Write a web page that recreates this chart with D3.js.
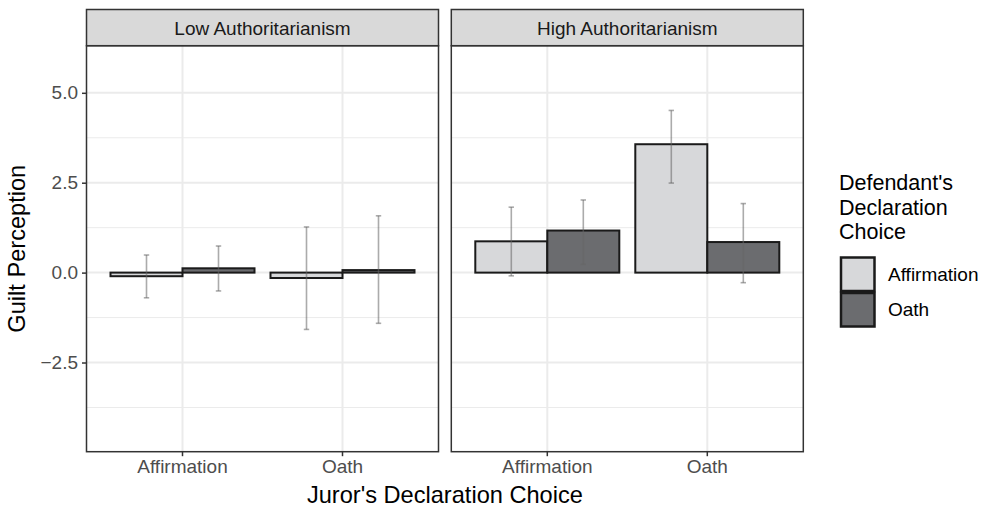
<!DOCTYPE html>
<html>
<head>
<meta charset="utf-8">
<script src="https://cdn.jsdelivr.net/npm/d3@7"></script>
<style>
  html, body { margin: 0; padding: 0; background: #fff; }
  svg { display: block; font-family: "Liberation Sans", Arial, Helvetica, sans-serif; }
</style>
</head>
<body>
<svg id="chart" width="988" height="510"></svg>
<script>
// ---------------- data ----------------
const panels = ["Low Authoritarianism", "High Authoritarianism"];
const jurorChoices = ["Affirmation", "Oath"];
const defendantChoices = ["Affirmation", "Oath"];
// order: (juror Affirmation, def Affirmation), (juror Affirmation, def Oath), (juror Oath, def Affirmation), (juror Oath, def Oath)
const lowMeans  = [-0.10, 0.12, -0.15, 0.07];
const lowLower  = [-0.70, -0.51, -1.58, -1.41];
const lowUpper  = [0.49, 0.74, 1.27, 1.58];
const highMeans = [0.87, 1.17, 3.57, 0.85];
const highLower = [-0.09, 0.23, 2.49, -0.28];
const highUpper = [1.82, 2.02, 4.51, 1.92];
const yTicks = [-2.5, 0.0, 2.5, 5.0];
const yMinor = [-3.75, -1.25, 1.25, 3.75];
const yDomain = [-4.98, 6.31];
const fillColors = ["#d7d8da", "#6b6c6f"];
const legendTitle = ["Defendant's", "Declaration", "Choice"];

const panelMeans = [lowMeans, highMeans];
const panelLower = [lowLower, highLower];
const panelUpper = [lowUpper, highUpper];

// ---------------- layout ----------------
const svg = d3.select("#chart");
const panelW = 352;
const panelX0 = [86.5, 451.3];
const stripTop = 9.5, stripBottom = 45.7, panelBottom = 451.7;

const y = d3.scaleLinear().domain(yDomain).range([panelBottom, stripBottom]);

panels.forEach((pname, pi) => {
  const x0 = panelX0[pi];
  const g = svg.append("g");
  const x = d3.scaleBand().domain(jurorChoices).range([x0, x0 + panelW]).paddingInner(0.1).paddingOuter(0.15);
  const xd = d3.scaleBand().domain(defendantChoices).range([0, x.bandwidth()]).padding(0);

  g.append("rect").attr("x", x0).attr("y", stripBottom).attr("width", panelW).attr("height", panelBottom - stripBottom).attr("fill", "#fff");

  // minor grid
  g.selectAll(".ymin").data(yMinor).enter().append("line")
    .attr("x1", x0).attr("x2", x0 + panelW)
    .attr("y1", d => y(d)).attr("y2", d => y(d))
    .attr("stroke", "#ebebeb").attr("stroke-width", 1);
  // major grid
  g.selectAll(".ymaj").data(yTicks).enter().append("line")
    .attr("x1", x0).attr("x2", x0 + panelW)
    .attr("y1", d => y(d)).attr("y2", d => y(d))
    .attr("stroke", "#ebebeb").attr("stroke-width", 2);
  g.selectAll(".xmaj").data(jurorChoices).enter().append("line")
    .attr("x1", d => x(d) + x.bandwidth() / 2).attr("x2", d => x(d) + x.bandwidth() / 2)
    .attr("y1", stripBottom).attr("y2", panelBottom)
    .attr("stroke", "#ebebeb").attr("stroke-width", 2);

  const rows = [];
  jurorChoices.forEach((j, ji) => defendantChoices.forEach((d, di) => {
    const k = ji * 2 + di;
    rows.push({ j, d, di, mean: panelMeans[pi][k], lo: panelLower[pi][k], hi: panelUpper[pi][k] });
  }));

  // bars
  g.selectAll(".bar").data(rows).enter().append("rect")
    .attr("x", r => x(r.j) + xd(r.d))
    .attr("width", xd.bandwidth())
    .attr("y", r => Math.min(y(r.mean), y(0)))
    .attr("height", r => Math.abs(y(r.mean) - y(0)))
    .attr("fill", r => fillColors[r.di])
    .attr("stroke", "#1a1a1a").attr("stroke-width", 2);

  // error bars
  const capW = xd.bandwidth() * 0.075;
  const cx = r => x(r.j) + xd(r.d) + xd.bandwidth() / 2;
  const eb = g.selectAll(".eb").data(rows).enter().append("g")
    .attr("stroke", "#666").attr("stroke-opacity", 0.55).attr("stroke-width", 1.6);
  eb.append("line").attr("x1", cx).attr("x2", cx)
    .attr("y1", r => y(r.lo)).attr("y2", r => y(r.hi));
  eb.append("line").attr("x1", r => cx(r) - capW / 2).attr("x2", r => cx(r) + capW / 2)
    .attr("y1", r => y(r.lo)).attr("y2", r => y(r.lo));
  eb.append("line").attr("x1", r => cx(r) - capW / 2).attr("x2", r => cx(r) + capW / 2)
    .attr("y1", r => y(r.hi)).attr("y2", r => y(r.hi));

  // panel border
  g.append("rect").attr("x", x0).attr("y", stripBottom).attr("width", panelW).attr("height", panelBottom - stripBottom)
    .attr("fill", "none").attr("stroke", "#333").attr("stroke-width", 1.5);

  // strip
  g.append("rect").attr("x", x0).attr("y", stripTop).attr("width", panelW).attr("height", stripBottom - stripTop)
    .attr("fill", "#d9d9d9").attr("stroke", "#333").attr("stroke-width", 1.5);
  g.append("text").attr("x", x0 + panelW / 2).attr("y", 35)
    .attr("text-anchor", "middle").attr("font-size", 19).attr("fill", "#1a1a1a").text(pname);

  // x axis
  const xAxis = d3.axisBottom(x).tickSize(4.5).tickPadding(3);
  const xg = g.append("g").attr("transform", `translate(0,${panelBottom})`).call(xAxis);
  xg.select(".domain").remove();
  xg.selectAll(".tick line").attr("stroke", "#333").attr("stroke-width", 1.5);
  xg.selectAll(".tick text").attr("font-size", 19).attr("fill", "#4d4d4d")
    .attr("font-family", "Liberation Sans, Arial, sans-serif").attr("dy", "0.74em");

  if (pi === 0) {
    const yAxis = d3.axisLeft(y).tickValues(yTicks).tickFormat(d => d3.format(".1f")(d).replace("-", "\u2212")).tickSize(4.5).tickPadding(4);
    const yg = g.append("g").attr("transform", `translate(${x0},0)`).call(yAxis);
    yg.select(".domain").remove();
    yg.selectAll(".tick line").attr("stroke", "#333").attr("stroke-width", 1.5);
    yg.selectAll(".tick text").attr("font-size", 19).attr("fill", "#4d4d4d")
      .attr("font-family", "Liberation Sans, Arial, sans-serif");
  }
});

// axis titles
svg.append("text").attr("x", (panelX0[0] + panelX0[1] + panelW) / 2).attr("y", 503)
  .attr("text-anchor", "middle").attr("font-size", 23.6).attr("fill", "#000").text("Juror's Declaration Choice");
svg.append("text").attr("transform", `translate(25,${(stripBottom + panelBottom) / 2}) rotate(-90)`)
  .attr("text-anchor", "middle").attr("font-size", 23.6).attr("fill", "#000").text("Guilt Perception");

// legend
const lg = svg.append("g");
lg.selectAll(".lt").data(legendTitle).enter().append("text")
  .attr("x", 839).attr("y", (d, i) => 190 + i * 24.5)
  .attr("font-size", 21.5).attr("fill", "#000").text(d => d);
const keyY = d3.scaleBand().domain(defendantChoices).range([256.5, 327.5]);
lg.selectAll(".key").data(defendantChoices).enter().append("rect")
  .attr("x", 841).attr("y", d => keyY(d) + 1)
  .attr("width", 33.5).attr("height", keyY.bandwidth() - 2)
  .attr("fill", (d, i) => fillColors[i]).attr("stroke", "#1a1a1a").attr("stroke-width", 2.5);
lg.selectAll(".kl").data(defendantChoices).enter().append("text")
  .attr("x", 888).attr("y", d => keyY(d) + keyY.bandwidth() / 2)
  .attr("dy", "0.35em").attr("font-size", 19).attr("fill", "#000").text(d => d);
</script>
</body>
</html>
